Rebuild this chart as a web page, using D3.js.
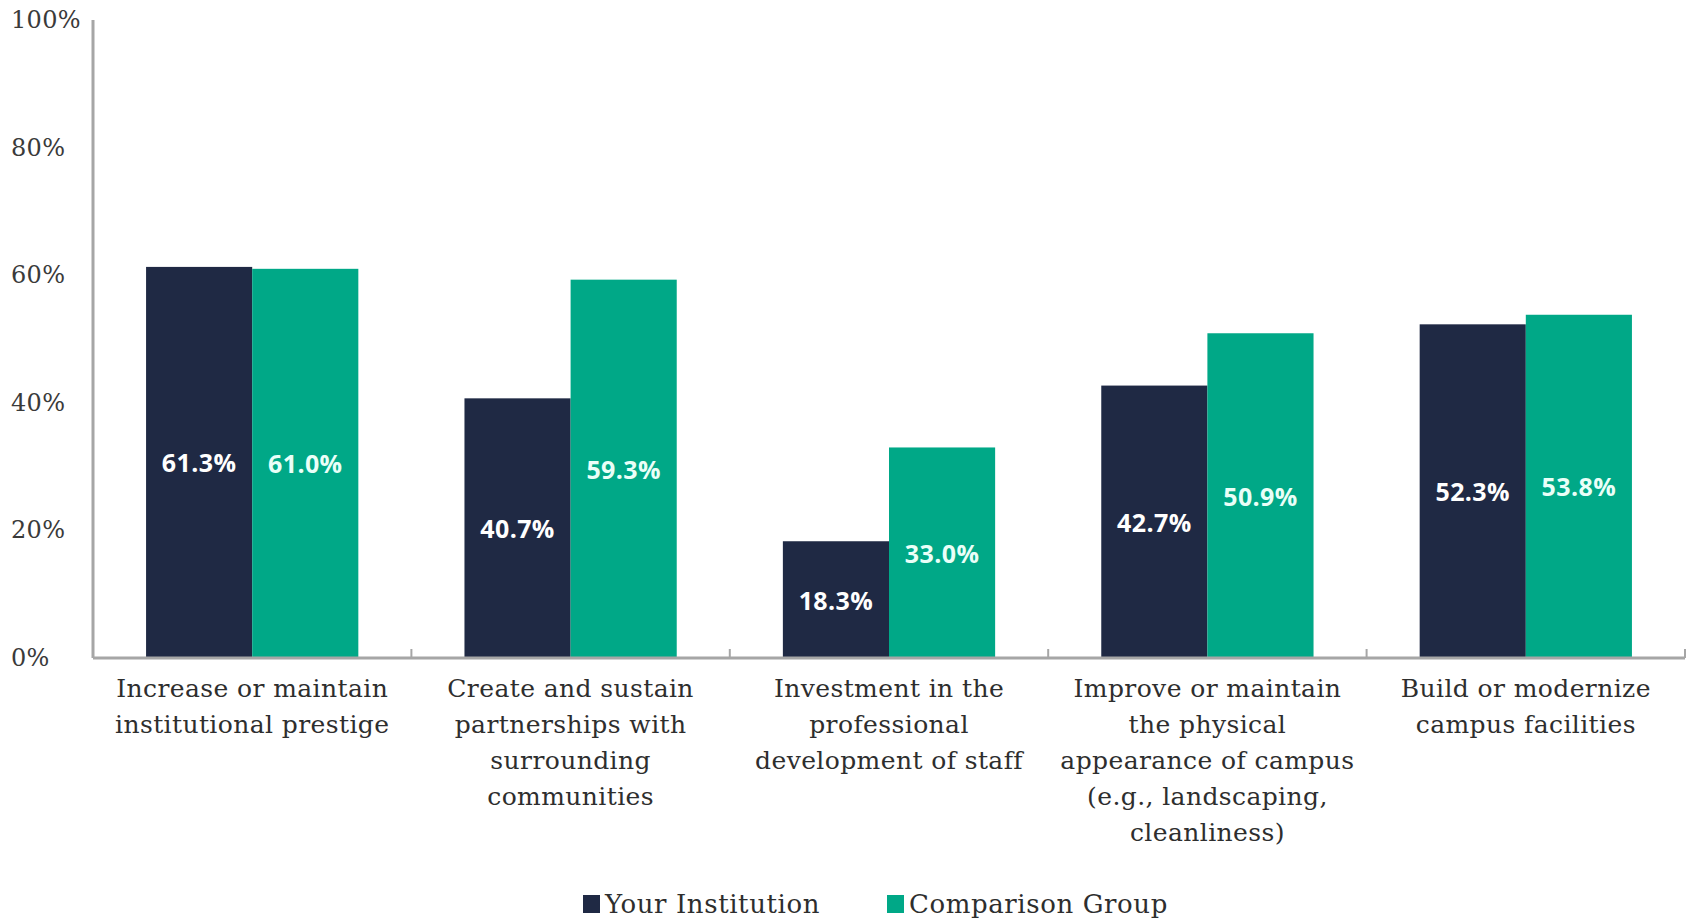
<!DOCTYPE html>
<html>
<head>
<meta charset="utf-8">
<script src="https://cdn.jsdelivr.net/npm/d3@7"></script>
<style>
  html, body { margin: 0; padding: 0; background: #ffffff; }
  svg { display: block; }
</style>
</head>
<body>
<svg id="chart" width="1692" height="922"></svg>
<script>
const categories = [
  ["Increase or maintain", "institutional prestige"],
  ["Create and sustain", "partnerships with", "surrounding", "communities"],
  ["Investment in the", "professional", "development of staff"],
  ["Improve or maintain", "the physical", "appearance of campus", "(e.g., landscaping,", "cleanliness)"],
  ["Build or modernize", "campus facilities"]
];
const seriesNames = ["Your Institution", "Comparison Group"];
const yourInstitution = [61.3, 40.7, 18.3, 42.7, 52.3];
const comparisonGroup = [61.0, 59.3, 33.0, 50.9, 53.8];
const yTicks = [0, 20, 40, 60, 80, 100];

const colors = ["#1f2944", "#00a887"];
const serif = "'DejaVu Serif', 'Liberation Serif', serif";
const sans = "'Open Sans', 'Noto Sans', sans-serif";

const svg = d3.select("#chart");
const plotLeft = 93, plotRight = 1685, plotTop = 20, plotBottom = 658;

const catIdx = categories.map((d, i) => i);
const x0 = d3.scaleBand().domain(catIdx).range([plotLeft, plotRight]).paddingInner(1/3).paddingOuter(1/6);
const step = (plotRight - plotLeft) / categories.length;
const x1 = d3.scaleBand().domain([0, 1]).range([0, x0.bandwidth()]);
const y = d3.scaleLinear().domain([0, 100]).range([plotBottom, plotTop]);

const data = catIdx.map(i => ({ i, vals: [yourInstitution[i], comparisonGroup[i]] }));

// bars
const groups = svg.append("g").selectAll("g").data(data).join("g")
  .attr("transform", d => `translate(${x0(d.i)},0)`);
groups.selectAll("rect").data(d => d.vals.map((v, s) => ({ v, s }))).join("rect")
  .attr("x", d => x1(d.s))
  .attr("width", x1.bandwidth())
  .attr("y", d => y(d.v))
  .attr("height", d => y(0) - y(d.v))
  .attr("fill", d => colors[d.s]);
groups.selectAll("text").data(d => d.vals.map((v, s) => ({ v, s }))).join("text")
  .attr("x", d => x1(d.s) + x1.bandwidth() / 2)
  .attr("y", d => (y(d.v) + y(0)) / 2)
  .attr("text-anchor", "middle")
  .attr("dominant-baseline", "central")
  .attr("font-family", sans)
  .attr("font-weight", "bold")
  .attr("font-size", 25)
  .attr("letter-spacing", 0.4)
  .attr("fill", d => d.s === 0 ? "#ffffff" : "#eafff8")
  .text(d => d.v.toFixed(1) + "%");

// y axis line
const axisColor = "#a6a6a6";
svg.append("line").attr("x1", plotLeft).attr("x2", plotLeft).attr("y1", y(100)).attr("y2", y(0))
  .attr("stroke", axisColor).attr("stroke-width", 3);
// y tick labels (left aligned)
svg.append("g").selectAll("text").data(yTicks).join("text")
  .attr("x", 11)
  .attr("y", d => y(d))
  .attr("dominant-baseline", "central")
  .attr("font-family", serif)
  .attr("font-size", 24)
  .attr("letter-spacing", 0.3)
  .attr("fill", "#3a3a3a")
  .text(d => d + "%");

// x axis line + ticks
svg.append("line").attr("x1", plotLeft).attr("x2", plotRight).attr("y1", y(0)).attr("y2", y(0))
  .attr("stroke", axisColor).attr("stroke-width", 3);
const boundaries = d3.range(categories.length + 1).map(k => plotLeft + k * step);
svg.append("g").selectAll("line").data(boundaries).join("line")
  .attr("x1", d => d).attr("x2", d => d)
  .attr("y1", y(0)).attr("y2", y(0) - 9)
  .attr("stroke", axisColor).attr("stroke-width", 2);

// category labels
const catG = svg.append("g").selectAll("text").data(categories).join("text")
  .attr("text-anchor", "middle")
  .attr("font-family", serif)
  .attr("font-size", 25)
  .attr("letter-spacing", 0.4)
  .attr("fill", "#2e2e2e")
  .attr("transform", (d, i) => `translate(${x0(i) + x0.bandwidth() / 2},0)`);
catG.selectAll("tspan").data(d => d).join("tspan")
  .attr("x", 0)
  .attr("y", (d, j) => 688 + j * 36)
  .attr("dominant-baseline", "central")
  .text(d => d);

// legend
const legendX = [583, 887];
const lg = svg.append("g").selectAll("g").data(seriesNames).join("g")
  .attr("transform", (d, i) => `translate(${legendX[i]},904)`);
lg.append("rect").attr("x", 0).attr("y", -9).attr("width", 17).attr("height", 18)
  .attr("fill", (d, i) => colors[i]);
lg.append("text").attr("x", 22).attr("y", 0)
  .attr("dominant-baseline", "central")
  .attr("font-family", serif)
  .attr("font-size", 26)
  .attr("letter-spacing", 0.6)
  .attr("fill", "#2e2e2e")
  .text(d => d);
</script>
</body>
</html>
